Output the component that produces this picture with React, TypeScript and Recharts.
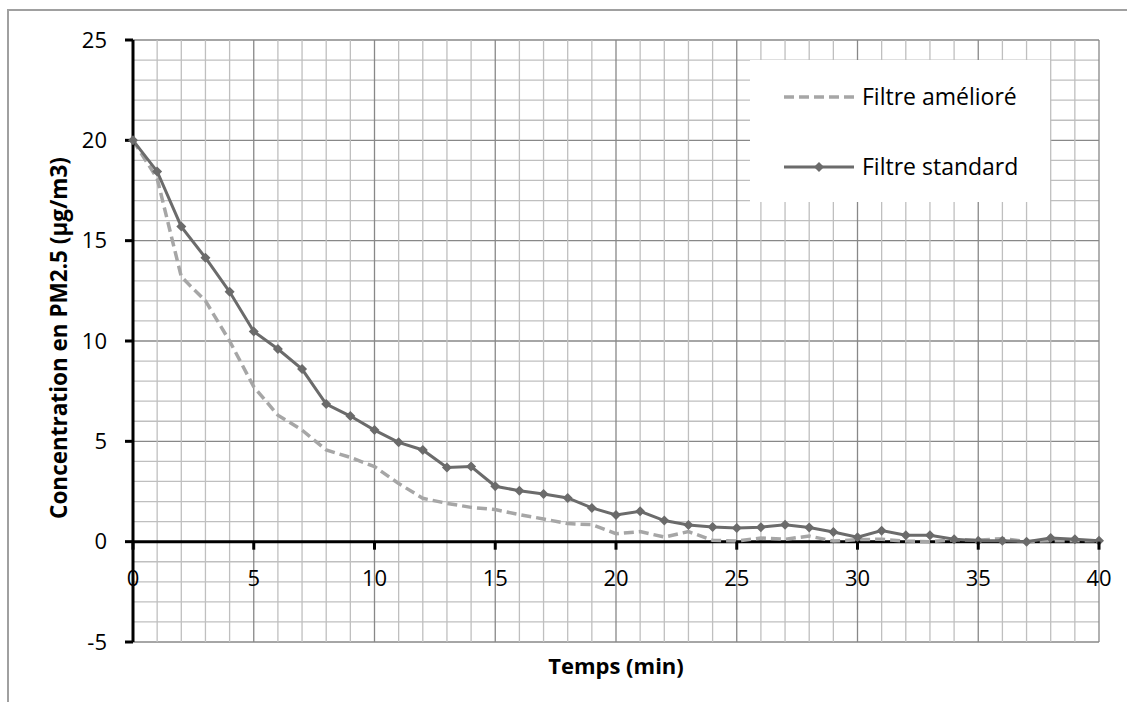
import { LineChart, Line, XAxis, YAxis, ReferenceLine, Legend } from "recharts";

const minutes = [
  0, 1, 2, 3, 4, 5, 6, 7, 8, 9, 10, 11, 12, 13, 14, 15, 16, 17, 18, 19, 20,
  21, 22, 23, 24, 25, 26, 27, 28, 29, 30, 31, 32, 33, 34, 35, 36, 37, 38, 39, 40,
];

const filtreAmeliore = [
  20, 18.1, 13.2, 12.0, 10.0, 7.72, 6.3, 5.56, 4.57, 4.2, 3.74, 2.9, 2.16, 1.91,
  1.71, 1.6, 1.35, 1.13, 0.9, 0.85, 0.4, 0.5, 0.23, 0.5, 0.07, 0.03, 0.18, 0.12,
  0.28, 0.03, 0.1, 0.12, 0.03, 0.0, 0.1, 0.08, 0.15, 0.0, 0.05, 0.05, 0.05,
];

const filtreStandard = [
  20, 18.45, 15.7, 14.15, 12.45, 10.47, 9.6, 8.6, 6.86, 6.26, 5.56, 4.95, 4.57,
  3.7, 3.74, 2.76, 2.54, 2.38, 2.18, 1.68, 1.33, 1.51, 1.05, 0.83, 0.73, 0.68,
  0.72, 0.84, 0.71, 0.48, 0.22, 0.55, 0.32, 0.32, 0.12, 0.05, 0.05, 0.0, 0.18,
  0.12, 0.05,
];

const xTicks = [0, 5, 10, 15, 20, 25, 30, 35, 40];
const yTicks = [-5, 0, 5, 10, 15, 20, 25];
const minorX = minutes;
const minorY = Array.from({ length: 31 }, (_, i) => i - 5);

const seriesNames = ["Filtre amélioré", "Filtre standard"];

const data = minutes.map((t, i) => ({
  t,
  ameliore: filtreAmeliore[i],
  standard: filtreStandard[i],
}));

const W = 1127;
const H = 702;
const PLOT_TOP = 40;
const PLOT_H = 602;
const Y0 = PLOT_TOP + (25 / 30) * PLOT_H;
const FONT = "'Open Sans', sans-serif";
const DARK = "#6b6b6b";
const LIGHT = "#a6a6a6";
const MINOR = "#bfbfbf";
const MAJOR = "#888888";

const XTick = (props: any) => {
  const { x, payload } = props;
  return (
    <g>
      <line x1={x} x2={x} y1={Y0} y2={Y0 + 8} stroke="#000" strokeWidth={3} />
      <text x={x} y={Y0 + 44} textAnchor="middle" fontSize={22} fontFamily={FONT} fill="#000">
        {payload.value}
      </text>
    </g>
  );
};

const Diamond = (props: any) => {
  const { cx, cy } = props;
  if (cx == null || cy == null) return null;
  const r = 5;
  return (
    <polygon
      points={`${cx},${cy - r} ${cx + r},${cy} ${cx},${cy + r} ${cx - r},${cy}`}
      fill={DARK}
    />
  );
};

const LegendBox = () => (
  <div style={{ width: 300, height: 142, background: "#fff", position: "relative", fontFamily: FONT }}>
    <svg width={300} height={142} style={{ position: "absolute", left: 0, top: 0 }}>
      <line x1={34} x2={104} y1={37} y2={37} stroke={LIGHT} strokeWidth={3.5} strokeDasharray="10 5" />
      <line x1={34} x2={104} y1={107} y2={107} stroke={DARK} strokeWidth={3} />
      <polygon points="69,102 74,107 69,112 64,107" fill={DARK} />
      <text x={112} y={45} fontSize={23} fontFamily={FONT} fill="#000">{seriesNames[0]}</text>
      <text x={112} y={115} fontSize={23} fontFamily={FONT} fill="#000">{seriesNames[1]}</text>
    </svg>
  </div>
);

export default function App() {
  return (
    <div style={{ position: "absolute", left: 0, top: 0, width: W, height: H, background: "#fff" }}>
      <div
        style={{
          position: "absolute",
          left: 7,
          top: 9,
          width: 1130,
          height: 700,
          border: "2px solid #a0a0a0",
          boxSizing: "border-box",
        }}
      />
      <LineChart
        width={W}
        height={H}
        data={data}
        margin={{ top: PLOT_TOP, right: 28, bottom: 0, left: 8 }}
        style={{ fontFamily: FONT }}
      >
        <XAxis
          dataKey="t"
          type="number"
          domain={[0, 40]}
          ticks={xTicks}
          interval={0}
          axisLine={false}
          tickLine={false}
          tick={<XTick />}
          height={60}
          label={{
            content: (p: any) => {
              const vb = p.viewBox;
              return (
                <text
                  x={vb.x + vb.width / 2}
                  y={vb.y + 32}
                  textAnchor="middle"
                  fontSize={22}
                  fontWeight="bold"
                  fontFamily={FONT}
                  fill="#000"
                >
                  Temps (min)
                </text>
              );
            },
          }}
        />
        <YAxis
          type="number"
          domain={[-5, 25]}
          ticks={yTicks}
          interval={0}
          width={125}
          axisLine={{ stroke: "#000", strokeWidth: 3 }}
          tickLine={{ stroke: "#000", strokeWidth: 3 }}
          tickSize={8}
          tickMargin={18}
          tick={{ fontSize: 22, fill: "#000", fontFamily: FONT }}
          label={{
            content: () => (
              <text
                x={58}
                y={338}
                transform="rotate(-90 58 338)"
                textAnchor="middle"
                dominantBaseline="central"
                fontSize={22.5}
                fontWeight="bold"
                fontFamily={FONT}
                fill="#000"
              >
                Concentration en PM2.5 (µg/m3)
              </text>
            ),
          }}
        />
        {minorY.map((v) => (
          <ReferenceLine key={`hy${v}`} y={v} stroke={v % 5 === 0 ? MAJOR : MINOR} strokeWidth={1.3} />
        ))}
        {minorX.map((v) => (
          <ReferenceLine key={`vx${v}`} x={v} stroke={v % 5 === 0 ? MAJOR : MINOR} strokeWidth={1.3} />
        ))}
        <ReferenceLine y={0} stroke="#000" strokeWidth={3} />
        <Legend
          layout="vertical"
          align="center"
          verticalAlign="middle"
          content={<LegendBox />}
          wrapperStyle={{ left: 750, top: 60, width: 300, height: 142 }}
        />
        <Line
          dataKey="ameliore"
          name={seriesNames[0]}
          type="linear"
          stroke={LIGHT}
          strokeWidth={3.5}
          strokeDasharray="10 5"
          dot={false}
          isAnimationActive={false}
        />
        <Line
          dataKey="standard"
          name={seriesNames[1]}
          type="linear"
          stroke={DARK}
          strokeWidth={3}
          dot={<Diamond />}
          activeDot={false}
          isAnimationActive={false}
        />
      </LineChart>
    </div>
  );
}
